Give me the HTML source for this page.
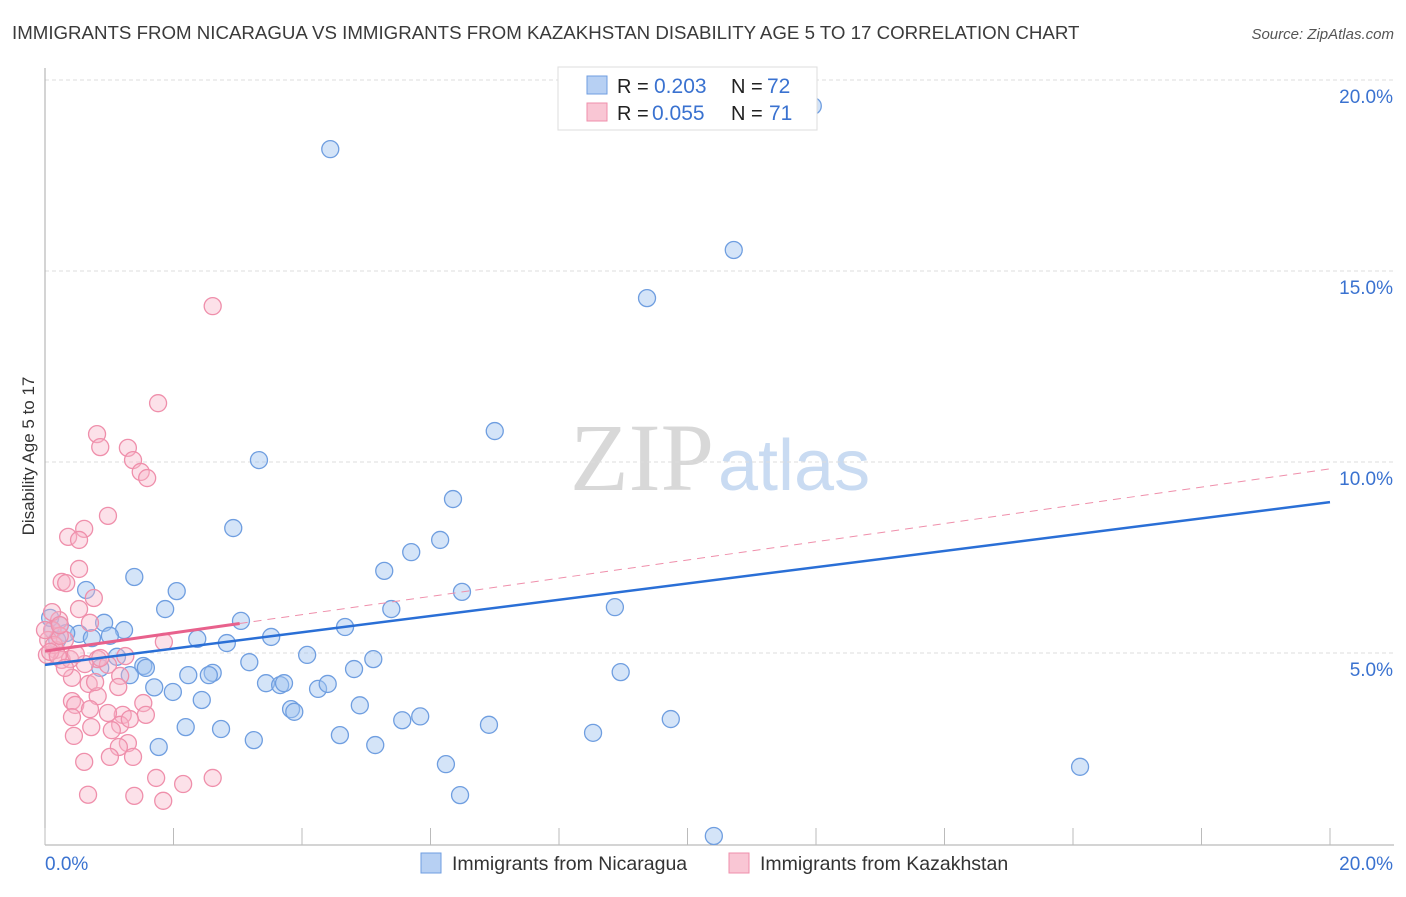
<!DOCTYPE html>
<html><head><meta charset="utf-8"><style>
body{margin:0;background:#fff;font-family:"Liberation Sans",sans-serif;}
svg text{font-family:"Liberation Sans",sans-serif;}
</style></head><body>
<svg id="chart" width="1406" height="892" viewBox="0 0 1406 892">
<text x="12" y="39" font-size="18.7" fill="#3a3a3a">IMMIGRANTS FROM NICARAGUA VS IMMIGRANTS FROM KAZAKHSTAN DISABILITY AGE 5 TO 17 CORRELATION CHART</text>
<text x="1394" y="39" font-size="15" fill="#555" font-style="italic" text-anchor="end">Source: ZipAtlas.com</text>
<text x="714" y="490" font-size="96" fill="#d8d8d8" text-anchor="end" style="font-family:'Liberation Serif',serif">ZIP</text>
<text x="718" y="490" font-size="72" fill="#c9dbf2">atlas</text>
<g id="grid"></g>
<g id="axes"></g>
<g id="pts"></g>
<g id="lines"></g>
<text x="34" y="456" font-size="17" fill="#333" text-anchor="middle" transform="rotate(-90 34 456)">Disability Age 5 to 17</text>
<g>
<rect x="558" y="67" width="259" height="63" fill="#fff" stroke="#ddd"/>
<rect x="587" y="76" width="20" height="18" fill="#b7d0f3" stroke="#6f9ee0"/>
<rect x="587" y="103" width="20" height="18" fill="#f9c6d4" stroke="#ef8fab"/>
<text x="617" y="93" font-size="20" fill="#222">R =</text>
<text x="654" y="93" font-size="21" fill="#3a72d0">0.203</text>
<text x="731" y="93" font-size="20" fill="#222">N =</text>
<text x="767" y="93" font-size="21" fill="#3a72d0">72</text>
<text x="617" y="120" font-size="20" fill="#222">R =</text>
<text x="652" y="120" font-size="21" fill="#3a72d0">0.055</text>
<text x="731" y="120" font-size="20" fill="#222">N =</text>
<text x="769" y="120" font-size="21" fill="#3a72d0">71</text>
</g>
<g>
<rect x="421" y="853" width="20" height="20" fill="#b7d0f3" stroke="#6f9ee0"/>
<text x="452" y="870" font-size="19.5" fill="#333">Immigrants from Nicaragua</text>
<rect x="729" y="853" width="20" height="20" fill="#f9c6d4" stroke="#ef8fab"/>
<text x="760" y="870" font-size="19.5" fill="#333">Immigrants from Kazakhstan</text>
</g>
</svg>
<script>
const xTicks=[0,2,4,6,8,10,12,14,16,18,20];
const yTicks=[5,10,15,20];
const yTickLabels=["5.0%","10.0%","15.0%","20.0%"];
const xEndLabels=["0.0%","20.0%"];
const nicX=[4.44,11.95,10.72,9.37,7.0,3.33,6.35,2.93,6.15,5.7,5.28,1.39,0.64,2.05,6.49,1.87,5.39,8.87,3.05,0.92,4.67,1.23,0.12,0.53,1.01,0.73,2.37,3.52,2.83,4.08,5.11,1.12,3.18,4.81,1.53,8.96,1.32,2.23,2.61,2.55,1.7,1.99,3.44,3.66,3.72,4.25,4.4,2.44,4.9,3.83,5.84,5.56,9.74,2.19,3.88,2.74,6.91,4.59,8.53,3.25,5.14,1.77,6.24,16.11,6.46,10.41,0.23,0.33,0.08,0.19,1.57,0.86];
const nicY=[18.19,19.32,15.55,14.29,10.81,10.05,9.03,8.27,7.96,7.64,7.15,6.99,6.65,6.62,6.6,6.15,6.15,6.2,5.84,5.79,5.68,5.6,5.6,5.5,5.45,5.39,5.37,5.42,5.26,4.95,4.84,4.9,4.76,4.58,4.66,4.5,4.42,4.42,4.48,4.42,4.1,3.98,4.21,4.16,4.21,4.06,4.19,3.77,3.63,3.53,3.34,3.24,3.27,3.06,3.46,3.01,3.12,2.85,2.91,2.72,2.59,2.54,2.09,2.02,1.28,0.21,5.73,5.52,5.92,5.34,4.61,4.61];
const kazX=[2.61,1.76,0.81,1.29,0.86,1.37,1.49,1.59,0.98,0.61,0.36,0.53,0.26,0.33,0.53,0.76,0.53,0.22,0.7,0.11,0.31,1.85,0.82,0.17,0.03,0.26,1.25,0.62,0.98,1.17,0.42,0.68,1.14,0.82,0.42,0.47,1.53,0.7,1.21,1.57,0.42,0.98,1.17,0.45,0.72,1.04,1.29,1.15,1.37,0.61,1.01,1.73,2.15,2.61,0.67,1.39,1.84,0.05,0.14,0.23,0.39,0.08,0.2,0.0,0.11,0.86,1.32,0.23,0.48,0.78,0.31];
const kazY=[14.08,11.54,10.73,10.37,10.39,10.05,9.74,9.58,8.59,8.25,8.04,7.96,6.86,6.83,7.2,6.44,6.15,5.86,5.79,5.6,5.34,5.29,4.84,5.08,4.95,4.82,4.92,4.71,4.69,4.4,4.35,4.19,4.11,3.87,3.74,3.64,3.69,3.53,3.38,3.38,3.32,3.43,3.12,2.83,3.06,2.98,2.64,2.54,2.28,2.15,2.28,1.73,1.57,1.73,1.29,1.26,1.13,5.34,5.21,5.45,4.84,5.03,4.92,5.6,6.07,4.87,3.27,5.73,4.97,4.24,4.61];
const nicTrend=[4.69,8.95];
const kazTrend=[5.05,9.82];
const kazSolidEnd=3.03;

const NS="http://www.w3.org/2000/svg";
const X=v=>45+v*64.25, Y=v=>844-v*38.2;
function mk(t,a,p){const e=document.createElementNS(NS,t);for(const k in a)e.setAttribute(k,a[k]);p.appendChild(e);return e;}
const grid=document.getElementById('grid'),axes=document.getElementById('axes'),pts=document.getElementById('pts'),lines=document.getElementById('lines');
yTicks.forEach((t,i)=>{
 const g=mk('line',{x1:45,x2:1394,y1:Y(t),y2:Y(t),stroke:'#ddd','stroke-dasharray':'4,3'},grid);
 
 
 const l=mk('text',{x:1393,y:Y(t)+23,'font-size':19,fill:'#3a72d0','text-anchor':'end'},axes);
 l.textContent=yTickLabels[i];
 
 
});
const ya=mk('line',{x1:45,x2:45,y1:68,y2:845,stroke:'#aaa'},axes);


const xa=mk('line',{x1:45,x2:1394,y1:845,y2:845,stroke:'#aaa'},axes);


xTicks.forEach(t=>{
 const k=mk('line',{x1:X(t),x2:X(t),y1:828,y2:845,stroke:'#bbb'},axes);
 
 
});
[[0,'start'],[20,'end']].forEach((p,i)=>{
 const l=mk('text',{x:X(p[0])+(i?63:0),y:870,'font-size':19,fill:'#3a72d0','text-anchor':p[1]},axes);
 l.textContent=xEndLabels[i];
 
 
});
nicX.forEach((x,i)=>{
 const c=mk('circle',{cx:X(x),cy:Y(nicY[i]),r:8.5,fill:'rgba(160,195,240,0.45)',stroke:'#6f9ee0','stroke-width':1.3},pts);
 
 
});
kazX.forEach((x,i)=>{
 const c=mk('circle',{cx:X(x),cy:Y(kazY[i]),r:8.5,fill:'rgba(248,180,200,0.4)',stroke:'#ef8fab','stroke-width':1.3},pts);
 
 
});
const kEndY=kazTrend[0]+(kazTrend[1]-kazTrend[0])*kazSolidEnd/20;
const kd=mk('line',{x1:X(kazSolidEnd),y1:Y(kEndY),x2:X(20),y2:Y(kazTrend[1]),stroke:'#ef8fab','stroke-width':1,'stroke-dasharray':'8,6'},lines);


const ks=mk('line',{x1:X(0),y1:Y(kazTrend[0]),x2:X(kazSolidEnd),y2:Y(kEndY),stroke:'#e8618c','stroke-width':3},lines);


const bt=mk('line',{x1:X(0),y1:Y(nicTrend[0]),x2:X(20),y2:Y(nicTrend[1]),stroke:'#2a6fd6','stroke-width':2.5},lines);


</script>
</body></html>
